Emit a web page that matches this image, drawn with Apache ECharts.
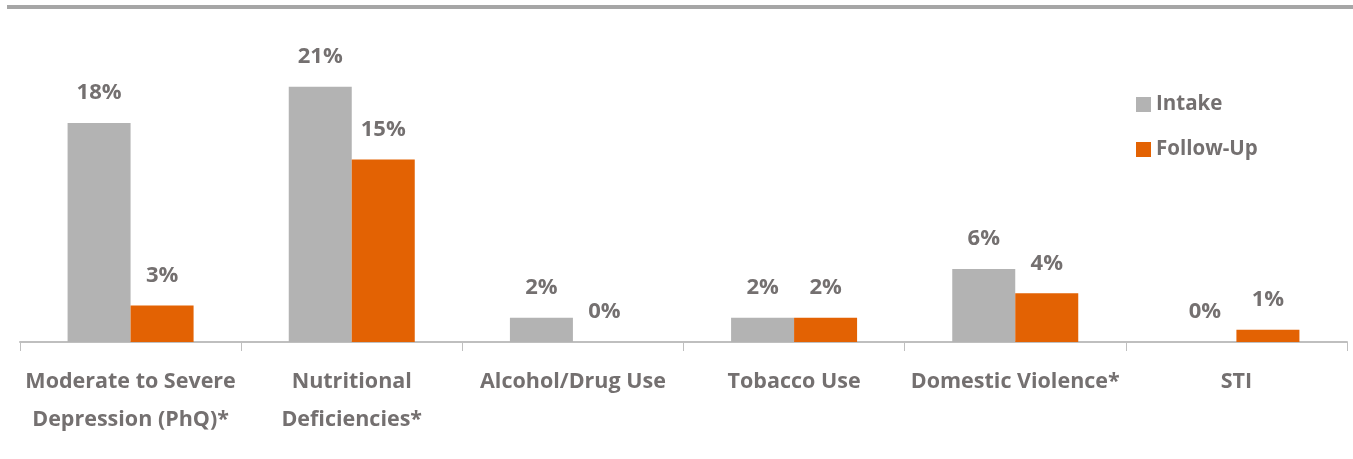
<!DOCTYPE html>
<html><head><meta charset="utf-8">
<script src="https://cdn.jsdelivr.net/npm/echarts@6/dist/echarts.min.js"></script>
<style>html,body{margin:0;padding:0;background:#fff}#c{width:1353px;height:459px}</style>
</head><body><div id="c"></div>
<script>
var categories = ['Moderate to Severe\nDepression (PhQ)*', 'Nutritional\nDeficiencies*', 'Alcohol/Drug Use', 'Tobacco Use', 'Domestic Violence*', 'STI'];
var intake = [18, 21, 2, 2, 6, 0];
var followUp = [3, 15, 0, 2, 4, 1];
var seriesNames = ['Intake', 'Follow-Up'];

var FONT = '"Open Sans"';
var TXT = '#747070';
var chart = echarts.init(document.getElementById('c'));
var labelStyle = {show: true, position: 'top', distance: 19, formatter: '{c}%', color: TXT, fontFamily: FONT, fontWeight: 'bold', fontSize: 22};
chart.setOption({
  animation: false,
  graphic: [{type: 'rect', shape: {x: 7, y: 5, width: 1346, height: 4}, style: {fill: '#a6a6a6'}}],
  legend: {
    orient: 'vertical', left: 1131, top: 89, itemGap: 24, itemWidth: 15, itemHeight: 15,
    icon: 'rect', data: seriesNames,
    textStyle: {color: TXT, fontFamily: FONT, fontWeight: 'bold', fontSize: 20.5}
  },
  grid: {left: 20, right: 6, top: 38, bottom: 117, containLabel: false},
  xAxis: {
    type: 'category', data: categories,
    axisLine: {lineStyle: {color: '#bfbfbf', width: 2}},
    axisTick: {show: true, length: 9, lineStyle: {color: '#bfbfbf', width: 1}},
    axisLabel: {color: TXT, fontFamily: FONT, fontWeight: 'bold', fontSize: 21.5, lineHeight: 38, margin: 21, interval: 0}
  },
  yAxis: {type: 'value', min: 0, max: 25, show: false, splitLine: {show: false}},
  series: [
    {name: seriesNames[0], type: 'bar', data: intake, barWidth: 63, barGap: '0%', itemStyle: {color: '#b3b3b3'}, label: labelStyle},
    {name: seriesNames[1], type: 'bar', data: followUp, barWidth: 63, barGap: '0%', itemStyle: {color: '#e36203'}, label: labelStyle}
  ]
});
</script></body></html>
